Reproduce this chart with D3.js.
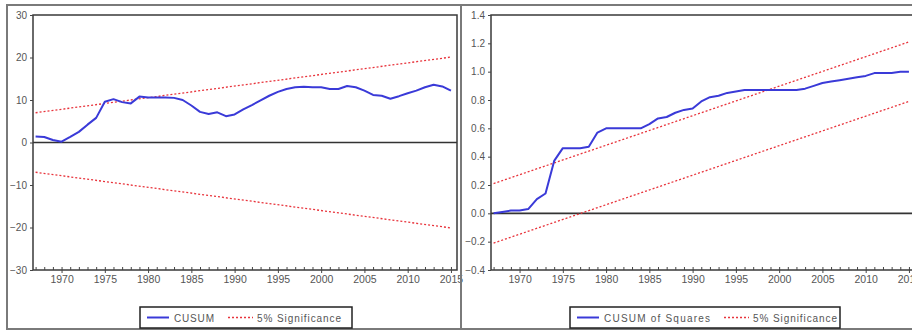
<!DOCTYPE html>
<html>
<head>
<meta charset="utf-8">
<script src="https://cdn.jsdelivr.net/npm/d3@7"></script>
<style>
  body { margin: 0; background: #fff; }
  text { font-family: "Liberation Sans", Arial, sans-serif; }
</style>
</head>
<body>
<div id="chart"></div>
<script>
// ---------------------------------------------- data ----------------------------------------------
const years = d3.range(1967, 2016);

const cusum = [1.4, 1.3, 0.6, 0.2, 1.3, 2.5, 4.2, 5.8, 9.6, 10.2,
               9.5, 9.2, 10.8, 10.6, 10.6, 10.6, 10.5, 10.0, 8.7, 7.2,
               6.7, 7.1, 6.2, 6.6, 7.8, 8.8, 9.9, 11.0, 11.9, 12.6,
               13.0, 13.1, 13.0, 13.0, 12.6, 12.6, 13.3, 13.0, 12.2, 11.2,
               11.0, 10.3, 10.9, 11.6, 12.2, 13.0, 13.6, 13.2, 12.2];

const cusumSq = [0.0, 0.01, 0.02, 0.02, 0.03, 0.10, 0.14, 0.37, 0.46, 0.46,
                 0.46, 0.47, 0.57, 0.60, 0.60, 0.60, 0.60, 0.60, 0.63, 0.67,
                 0.68, 0.71, 0.73, 0.74, 0.79, 0.82, 0.83, 0.85, 0.86, 0.87,
                 0.87, 0.87, 0.87, 0.87, 0.87, 0.87, 0.88, 0.90, 0.92, 0.93,
                 0.94, 0.95, 0.96, 0.97, 0.99, 0.99, 0.99, 1.00, 1.00];

// 5% bands are straight lines: first and last observation only
const bandYears = [1967, 2015];
const cusumUpper = [7.0, 20.1];
const cusumLower = [-7.0, -20.1];
const sqUpper = [0.21, 1.21];
const sqLower = [-0.21, 0.79];

const xTickYears = [1970, 1975, 1980, 1985, 1990, 1995, 2000, 2005, 2010, 2015];
const cusumTicks = [30, 20, 10, 0, -10, -20, -30];
const sqTicks = [1.4, 1.2, 1.0, 0.8, 0.6, 0.4, 0.2, 0.0, -0.2, -0.4];

// ---------------------------------------------- layout --------------------------------------------
const W = 912, H = 332;
const plotW = 424, plotH = 255;

const svg = d3.select("#chart")
  .append("svg")
    .attr("width", W)
    .attr("height", H);

const blue = "#3a3ad8";
const red = "#e8343c";

//---------------------------------------------- one EViews-style panel ----------------------------
function drawPanel(opt) {
  // outer frame
  svg.append("rect")
    .attr("x", opt.ox).attr("y", 5)
    .attr("width", opt.ow).attr("height", 324)
    .attr("fill", "none")
    .attr("stroke", "#7a7a7a")
    .attr("stroke-width", 2);

  const g = svg.append("g")
    .attr("transform", "translate(" + opt.px + ",15)");

  const x = d3.scaleLinear()
    .domain([1966.7, 2015.7])
    .range([0, plotW]);

  const y = d3.scaleLinear()
    .domain(opt.yDomain)
    .range([plotH, 0]);

  // zero line
  g.append("line")
    .attr("x1", 0).attr("x2", plotW)
    .attr("y1", y(0)).attr("y2", y(0))
    .attr("stroke", "#333")
    .attr("stroke-width", 1.6);

  const line = d3.line()
    .x((d) => x(d[0]))
    .y((d) => y(d[1]));

  // significance bands
  [opt.upper, opt.lower].forEach((band) => {
    g.append("path")
      .datum(bandYears.map((yr, i) => [yr, band[i]]))
      .attr("d", line)
      .attr("fill", "none")
      .attr("stroke", red)
      .attr("stroke-width", 1.3)
      .attr("stroke-dasharray", "2,2");
  });

  // main series
  g.append("path")
    .datum(years.map((yr, i) => [yr, opt.values[i]]))
    .attr("d", line)
    .attr("fill", "none")
    .attr("stroke", blue)
    .attr("stroke-width", 2)
    .attr("stroke-linejoin", "round");

  // plot box
  g.append("rect")
    .attr("width", plotW).attr("height", plotH)
    .attr("fill", "none")
    .attr("stroke", "#3a3a3a")
    .attr("stroke-width", 1.5);

  // minor year ticks (inside)
  const minor = g.append("g")
    .attr("transform", "translate(0," + plotH + ")")
    .call(d3.axisBottom(x).tickValues(years).tickSize(-3).tickFormat(""));
  minor.select(".domain").remove();
  minor.selectAll("line").attr("stroke", "#444");

  // major year ticks + labels
  const major = g.append("g")
    .attr("transform", "translate(0," + plotH + ")")
    .call(d3.axisBottom(x).tickValues(xTickYears).tickSize(3).tickPadding(3).tickFormat(d3.format("d")));
  major.select(".domain").remove();
  major.selectAll("line").attr("stroke", "#444");
  major.selectAll("text")
    .attr("fill", "#555")
    .style("font-size", "10.5px");

  // y axis
  const ya = g.append("g")
    .call(d3.axisLeft(y).tickValues(opt.yTicks).tickSize(3).tickPadding(3).tickFormat(opt.yFormat));
  ya.select(".domain").remove();
  ya.selectAll("line").attr("stroke", "#444");
  ya.selectAll("text")
    .attr("fill", "#555")
    .style("font-size", "10px");

  // legend
  const lg = svg.append("g")
    .attr("transform", "translate(" + opt.lx + ",307)");
  lg.append("rect")
    .attr("width", opt.lw).attr("height", 21)
    .attr("fill", "#fff")
    .attr("stroke", "#222")
    .attr("stroke-width", 1.5);
  lg.append("line")
    .attr("x1", 7).attr("x2", 29).attr("y1", 10.5).attr("y2", 10.5)
    .attr("stroke", blue).attr("stroke-width", 2);
  lg.append("text")
    .attr("x", 34).attr("y", 14.5)
    .attr("fill", "#555")
    .style("font-size", "10px")
    .attr("textLength", opt.nameLen)
    .text(opt.name);
  const rx = 34 + opt.nameLen + 14;
  lg.append("line")
    .attr("x1", rx).attr("x2", rx + 25).attr("y1", 10.5).attr("y2", 10.5)
    .attr("stroke", red).attr("stroke-width", 1.3)
    .attr("stroke-dasharray", "2,2");
  lg.append("text")
    .attr("x", rx + 29).attr("y", 14.5)
    .attr("fill", "#555")
    .style("font-size", "10px")
    .attr("textLength", 84)
    .text("5% Significance");
}

drawPanel({
  ox: 7, ow: 454, px: 33,
  yDomain: [-30, 30], yTicks: cusumTicks, yFormat: d3.format("d"),
  values: cusum, upper: cusumUpper, lower: cusumLower,
  lx: 140, lw: 212, name: "CUSUM", nameLen: 40
});

drawPanel({
  ox: 461, ow: 460, px: 491,
  yDomain: [-0.4, 1.4], yTicks: sqTicks, yFormat: d3.format(".1f"),
  values: cusumSq, upper: sqUpper, lower: sqLower,
  lx: 570, lw: 270, name: "CUSUM  of Squares", nameLen: 106
});
</script>
</body>
</html>
